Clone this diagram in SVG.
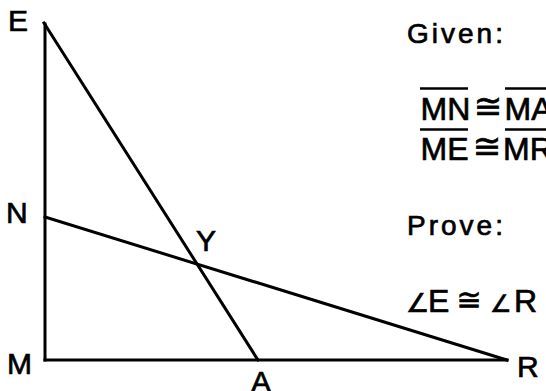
<svg xmlns="http://www.w3.org/2000/svg" width="546" height="391" viewBox="0 0 546 391">
<style>
text{stroke:#000;stroke-width:0.7px}
.lbl{font-family:"Liberation Sans",Arial,"DejaVu Sans",sans-serif;font-size:30px;fill:#000}
.txt{font-family:"Liberation Sans",Arial,"DejaVu Sans",sans-serif;font-size:28px;letter-spacing:3px;fill:#000}
.eq{font-family:"Liberation Sans",Arial,"DejaVu Sans",sans-serif;font-size:32px;fill:#000}
.sym{font-family:"DejaVu Sans",sans-serif;fill:#000}
.seg{stroke:#000;stroke-width:3;fill:none;stroke-linecap:square}
.ovl{stroke:#000;stroke-width:2.5}
</style>
<rect width="546" height="391" fill="#fff"/>
<g id="connectors">
<line class="seg" x1="45" y1="24" x2="45" y2="360"/>
<line class="seg" x1="45" y1="360" x2="507" y2="360"/>
<line class="seg" x1="44" y1="23" x2="258" y2="360" stroke-width="2.5"/>
<line class="seg" x1="45" y1="217" x2="507" y2="360" stroke-width="2.5"/>
</g>
<g id="E"><text class="lbl" x="8" y="31">E</text></g>
<g id="N"><text class="lbl" x="6" y="223">N</text></g>
<g id="M"><text class="lbl" x="7" y="374">M</text></g>
<g id="A"><text class="lbl" x="251" y="392">A</text></g>
<g id="R"><text class="lbl" x="517" y="377">R</text></g>
<g id="Y"><text class="lbl" x="196" y="251">Y</text></g>
<g id="given">
<text class="txt" x="407" y="43">Given:</text>
<text class="eq" x="420.5" y="120">MN</text>
<line class="ovl" x1="420" y1="88.5" x2="468" y2="88.5"/>
<text class="sym" x="488" y="118" font-size="34" text-anchor="middle">≅</text>
<text class="eq" x="504.5" y="120">MA</text>
<line class="ovl" x1="505" y1="88.5" x2="546" y2="88.5"/>
<text class="eq" x="420.5" y="160">ME</text>
<line class="ovl" x1="420" y1="129.5" x2="468" y2="129.5"/>
<text class="sym" x="487" y="158" font-size="34" text-anchor="middle">≅</text>
<text class="eq" x="503" y="160">MR</text>
<line class="ovl" x1="505" y1="129.5" x2="546" y2="129.5"/>
</g>
<g id="prove">
<text class="txt" x="407" y="235">Prove:</text>
<text class="sym" x="406" y="312" font-size="26">∠</text>
<text class="eq" x="428" y="312" font-size="26">E</text>
<text class="sym" x="469" y="310" font-size="30" text-anchor="middle">≅</text>
<text class="sym" x="490" y="312" font-size="24">∠</text>
<text class="eq" x="514" y="312" font-size="26">R</text>
</g>
</svg>
